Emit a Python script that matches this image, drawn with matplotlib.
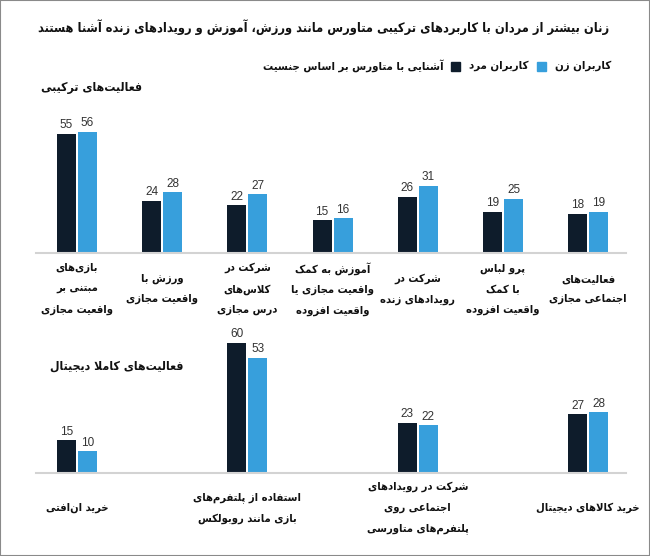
import matplotlib
matplotlib.use("Agg")
import matplotlib.pyplot as plt
from matplotlib.patches import Rectangle
import numpy as np

# ---- data ----
title = "زنان بیشتر از مردان با کاربردهای ترکیبی متاورس مانند ورزش، آموزش و رویدادهای زنده آشنا هستند"
legend_title = "آشنایی با متاورس بر اساس جنسیت"
series_names = ["کاربران مرد", "کاربران زن"]

section1 = "فعالیت‌های ترکیبی"
cats1 = [
    "بازی‌های\nمبتنی بر\nواقعیت مجازی",
    "ورزش با\nواقعیت مجازی",
    "شرکت در\nکلاس‌های\nدرس مجازی",
    "آموزش به کمک\nواقعیت مجازی یا\nواقعیت افزوده",
    "شرکت در\nرویدادهای زنده",
    "پرو لباس\nبا کمک\nواقعیت افزوده",
    "فعالیت‌های\nاجتماعی مجازی",
]
men1 = [55, 24, 22, 15, 26, 19, 18]
women1 = [56, 28, 27, 16, 31, 25, 19]

section2 = "فعالیت‌های کاملا دیجیتال"
cats2 = [
    "خرید ان‌افتی",
    "استفاده از پلتفرم‌های\nبازی مانند روبولکس",
    "شرکت در رویدادهای\nاجتماعی روی\nپلتفرم‌های متاورسی",
    "خرید کالاهای دیجیتال",
]
men2 = [15, 60, 23, 27]
women2 = [10, 53, 22, 28]

dark = "#0e1c2b"
blue = "#379fdc"
fa_font = dict(family="DejaVu Sans", stretch="condensed", fontweight="bold",
               color="#111111")

# ---- simple persian shaping (matplotlib has no bidi / shaping) ----
DUAL = {'ب': 0xFE8F, 'ت': 0xFE95, 'ث': 0xFE99, 'ج': 0xFE9D, 'ح': 0xFEA1,
        'خ': 0xFEA5, 'س': 0xFEB1, 'ش': 0xFEB5, 'ص': 0xFEB9, 'ض': 0xFEBD,
        'ط': 0xFEC1, 'ظ': 0xFEC5, 'ع': 0xFEC9, 'غ': 0xFECD, 'ف': 0xFED1,
        'ق': 0xFED5, 'ل': 0xFEDD, 'م': 0xFEE1, 'ن': 0xFEE5, 'ه': 0xFEE9,
        'ی': 0xFBFC, 'پ': 0xFB56, 'چ': 0xFB7A, 'ک': 0xFB8E, 'گ': 0xFB92,
        'ئ': 0xFE89, 'ي': 0xFEF1}
RIGHT = {'ا': 0xFE8D, 'آ': 0xFE81, 'د': 0xFEA9, 'ذ': 0xFEAB, 'ر': 0xFEAD,
         'ز': 0xFEAF, 'ژ': 0xFB8A, 'و': 0xFEED, 'أ': 0xFE83, 'إ': 0xFE87,
         'ؤ': 0xFE85, 'ة': 0xFE93}


def shape_line(s):
    out = []
    i = 0
    n = len(s)
    while i < n:
        c = s[i]
        prev = s[i - 1] if i > 0 else None
        jp = prev in DUAL
        if c == 'ل' and i + 1 < n and s[i + 1] in ('ا', 'آ'):
            base = 0xFEFB if s[i + 1] == 'ا' else 0xFEF5
            out.append(chr(base + (1 if jp else 0)))
            i += 2
            continue
        if c in DUAL:
            nxt = s[i + 1] if i + 1 < n else None
            jn = nxt in DUAL or nxt in RIGHT
            if jp and jn:
                k = 3
            elif jp:
                k = 1
            elif jn:
                k = 2
            else:
                k = 0
            out.append(chr(DUAL[c] + k))
        elif c in RIGHT:
            out.append(chr(RIGHT[c] + (1 if jp else 0)))
        elif c == '\u200c':
            pass
        else:
            out.append(c)
        i += 1
    return ''.join(out)[::-1]


def fa(s):
    return '\n'.join(shape_line(l) for l in s.split('\n'))


# ---- figure ----
W, H = 650, 556
fig = plt.figure(figsize=(W / 100, H / 100), dpi=100)
renderer = fig.canvas.get_renderer()


def fx(x):
    return x / W


def fy(y):
    return 1 - y / H


fig.patches.append(Rectangle((0, 0), 1, 1, transform=fig.transFigure,
                             fill=False, edgecolor="#8a8a8a", lw=1.5))

fig.text(fx(609), fy(27), fa(title), ha="right", va="center",
         fontsize=9.2, **fa_font)

# legend row, laid out right to left
x = 611
leg_y = 66
items = [(series_names[1], blue), (series_names[0], dark), (legend_title, None)]
for name, col in items:
    t = fig.text(fx(x), fy(leg_y), fa(name), ha="right", va="center",
                 fontsize=8.2, **fa_font)
    x -= t.get_window_extent(renderer).width
    if col is not None:
        x -= 9
        fig.patches.append(Rectangle((fx(x - 9), fy(leg_y + 5)), 9 / W, 9 / H,
                                     transform=fig.transFigure, color=col))
        x -= 9 + 8

fig.text(fx(142), fy(87), fa(section1), ha="right", va="center",
         fontsize=8.8, **fa_font)
fig.text(fx(183), fy(366), fa(section2), ha="right", va="center",
         fontsize=8.8, **fa_font)

step = 85.2
x_left, x_right, x0 = 36, 626, 77
px_per_unit = 2.167
ax_h = 140
xlim = (-(x0 - x_left) / step, (x_right - x0) / step)
bw = 19 / step
off = 10.5 / step


def make_axes(base_y):
    ax = fig.add_axes([fx(x_left), fy(base_y), (x_right - x_left) / W, ax_h / H])
    ax.set_xlim(*xlim)
    ax.set_ylim(0, ax_h / px_per_unit)
    for s in ["top", "right", "left"]:
        ax.spines[s].set_visible(False)
    ax.spines["bottom"].set_color("#d3d3d3")
    ax.spines["bottom"].set_linewidth(1.5)
    ax.set_xticks([])
    ax.set_yticks([])
    ax.patch.set_alpha(0)
    return ax


def draw(ax, pos, men, women, cats, label_y, base_y):
    pos = np.array(pos, dtype=float)
    b1 = ax.bar(pos - off, men, bw, color=dark)
    b2 = ax.bar(pos + off, women, bw, color=blue)
    for b in (b1, b2):
        ax.bar_label(b, padding=2, fontsize=8.5, color="#333333",
                     family="Liberation Sans")
    dy = (label_y - base_y) / ax_h
    for p, c in zip(pos, cats):
        ax.text(p, -dy, fa(c), transform=ax.get_xaxis_transform(),
                ha="center", va="center", multialignment="center",
                fontsize=8, linespacing=2.3, clip_on=False, **fa_font)


ax1 = make_axes(253)
draw(ax1, np.arange(len(cats1)), men1, women1, cats1, 289, 253)

ax2 = make_axes(473)
draw(ax2, np.arange(len(cats2)) * 2, men2, women2, cats2, 508, 473)

fig.savefig("out.png", dpi=100, facecolor="white")
